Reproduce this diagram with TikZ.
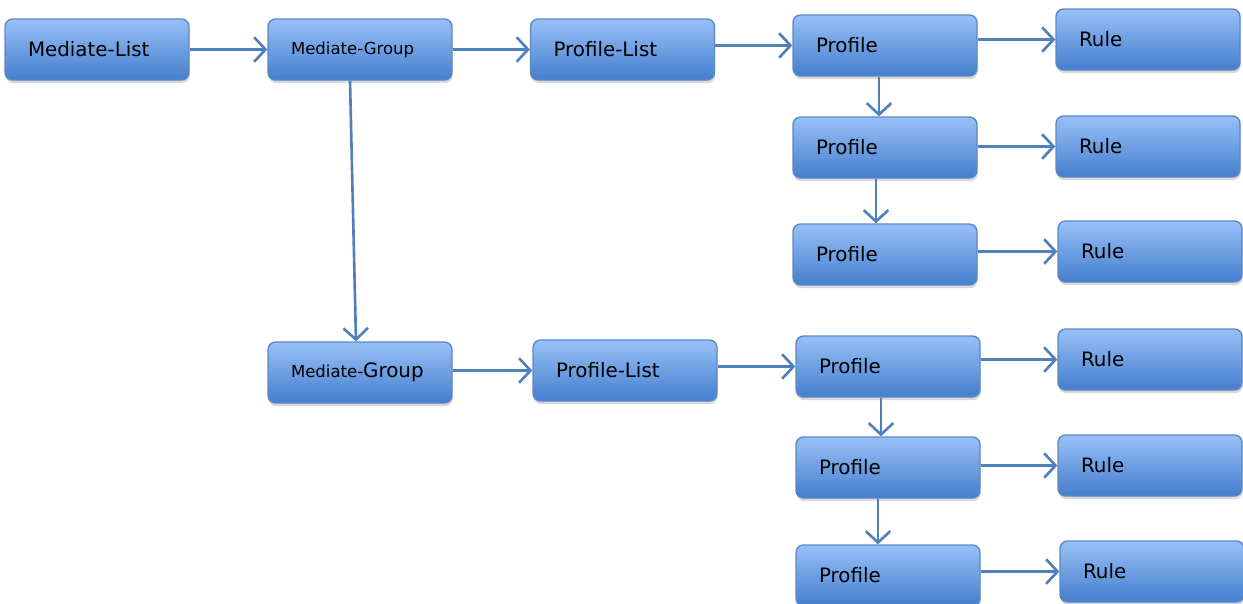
\documentclass[tikz,border=0pt]{standalone}
\usepackage{fontspec}
\setmainfont{DejaVu Sans}
\usetikzlibrary{arrows.meta,shadows}

\definecolor{boxtop}{RGB}{152,192,247}
\definecolor{boxbot}{RGB}{68,126,206}
\definecolor{boxedge}{RGB}{92,136,198}
\definecolor{lnk}{RGB}{80,127,188}

\begin{document}
\begin{tikzpicture}[x=0.02cm,y=-0.02cm,
    box/.style={rounded corners=0.15cm,draw=boxedge,line width=0.8pt,
        top color=boxtop,bottom color=boxbot,
        drop shadow={opacity=0.3,shadow xshift=0.4pt,shadow yshift=-1.8pt},
        minimum width=3.68cm,minimum height=1.22cm,inner xsep=0.46cm,
        text width=2.76cm,align=left,font=\fontsize{11.3}{13}\selectfont},
    link/.style={draw=lnk,line width=1.5pt,-{Straight Barb[length=6.5pt,width=14pt]}}]
    \useasboundingbox (0,0) rectangle (1243,603);
    %
    \node[box] (ml) at (97,49.5) {Mediate-List};
    \node[box] (mga) at (360,49.5) {{\fontsize{9.4}{11}\selectfont Mediate-Group}};
    \node[box] (pla) at (622.5,49.5) {Profile-List};
    \node[box] (pa) at (885,45.5) {Profile};
    \node[box] (ra) at (1148,39.5) {Rule};
    \node[box] (pb) at (885,147.5) {Profile};
    \node[box] (rb) at (1148,146.5) {Rule};
    \node[box] (pc) at (885,254.5) {Profile};
    \node[box] (rc) at (1150,251.5) {Rule};
    %
    \node[box] (mgb) at (360,372.5) {{\fontsize{9.4}{11}\selectfont Mediate-}Group};
    \node[box] (plb) at (625,370.5) {Profile-List};
    \node[box] (pd) at (888,366.5) {Profile};
    \node[box] (rd) at (1150,359.5) {Rule};
    \node[box] (pe) at (888,467.5) {Profile};
    \node[box] (re) at (1150,465.5) {Rule};
    \node[box] (pf) at (888,575.5) {Profile};
    \node[box] (rf) at (1152,571.5) {Rule};
    %
    \draw[link] (ml.east |- mga) -- (mga.west);
    \draw[link] (mga.east |- pla) -- (pla.west);
    \draw[link] (pla.east |- pa) -- (pa.west);
    \draw[link] (pa.east |- ra) -- (ra.west);
    \draw[link] (pb.east |- rb) -- (rb.west);
    \draw[link] (pc.east |- rc) -- (rc.west);
    \draw[link] ([xshift=-0.12cm]pa.south) -- ([xshift=-0.12cm]pb.north);
    \draw[link] ([xshift=-0.18cm]pb.south) -- ([xshift=-0.18cm]pc.north);
    %
    \draw[link] ([xshift=-0.2cm]mga.south) -- ([xshift=-0.08cm]mgb.north);
    %
    \draw[link] (mgb.east |- plb) -- (plb.west);
    \draw[link] (plb.east |- pd) -- (pd.west);
    \draw[link] (pd.east |- rd) -- (rd.west);
    \draw[link] (pe.east |- re) -- (re.west);
    \draw[link] (pf.east |- rf) -- (rf.west);
    \draw[link] ([xshift=-0.14cm]pd.south) -- ([xshift=-0.14cm]pe.north);
    \draw[link] ([xshift=-0.2cm]pe.south) -- ([xshift=-0.2cm]pf.north);
    %
\end{tikzpicture}
\end{document}
